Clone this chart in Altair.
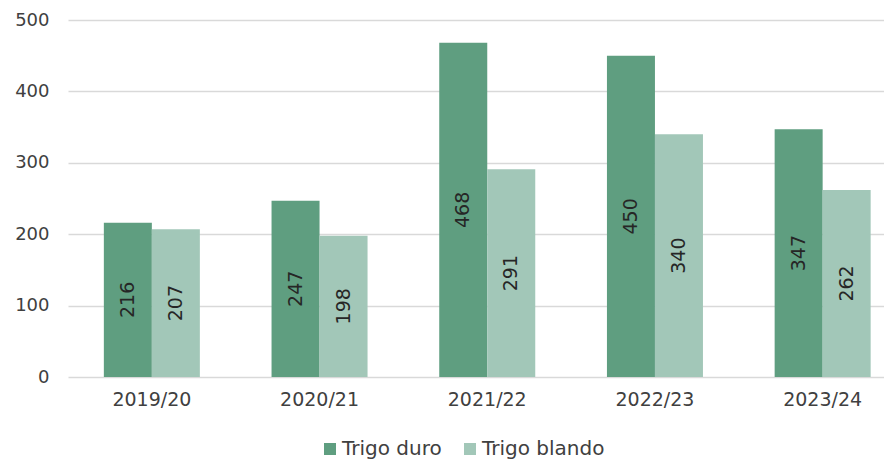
import altair as alt
import pandas as pd

campaigns = ["2019/20", "2020/21", "2021/22", "2022/23", "2023/24"]
duro = [216, 247, 468, 450, 347]
blando = [207, 198, 291, 340, 262]
series = ["Trigo duro", "Trigo blando"]
colors = ["#5F9E80", "#A2C7B8"]

rows = []
for i, c in enumerate(campaigns):
    rows.append({"campaign": c, "serie": series[0], "value": duro[i]})
    rows.append({"campaign": c, "serie": series[1], "value": blando[i]})
df = pd.DataFrame(rows)

FONT = "DejaVu Sans"
xscale = alt.Scale(paddingInner=0.4275, paddingOuter=0.21375, range=[0, 838.5])

x = alt.X("campaign:N", sort=campaigns, title=None, scale=xscale,
          axis=alt.Axis(labelAngle=0, labelFontSize=19, labelColor="#404040",
                        labelFont=FONT, ticks=False, domain=False, labelPadding=13))
xoff = alt.XOffset("serie:N", sort=series, scale=alt.Scale(paddingInner=0, paddingOuter=0))

bars = alt.Chart(df).mark_bar().encode(
    x=x,
    xOffset=xoff,
    y=alt.Y("value:Q", title=None,
            scale=alt.Scale(domain=[0, 500]),
            axis=alt.Axis(values=[0, 100, 200, 300, 400, 500], labelFontSize=18,
                          labelColor="#404040", labelFont=FONT, ticks=False,
                          domain=False, labelPadding=19, gridColor="#D9D9D9",
                          gridWidth=1.5)),
    color=alt.Color("serie:N", sort=series,
                    scale=alt.Scale(domain=series, range=colors),
                    legend=alt.Legend(title=None, orient="none", direction="horizontal",
                                      legendX=252, legendY=419, symbolType="square",
                                      symbolSize=144, symbolStrokeWidth=0,
                                      labelFontSize=20, labelFont=FONT,
                                      labelColor="#404040", columnPadding=18,
                                      symbolOffset=0, labelOffset=2)),
)

labels = alt.Chart(df).transform_calculate(mid="datum.value / 2").mark_text(
    angle=270, align="center", baseline="middle", fontSize=19, font=FONT, color="#262626"
).encode(
    x=alt.X("campaign:N", sort=campaigns, scale=xscale),
    xOffset=xoff,
    y=alt.Y("mid:Q"),
    text=alt.Text("value:Q"),
)

chart = alt.layer(bars, labels).properties(
    width=816, height=357,
    padding={"left": 60, "top": 12, "right": 0, "bottom": 92},
    autosize=alt.AutoSizeParams(type="none"),
).configure_view(stroke=None).configure_axis(grid=True).configure_axisX(grid=False)

chart.save("out.html", embed_options={"renderer": "svg", "actions": False})
